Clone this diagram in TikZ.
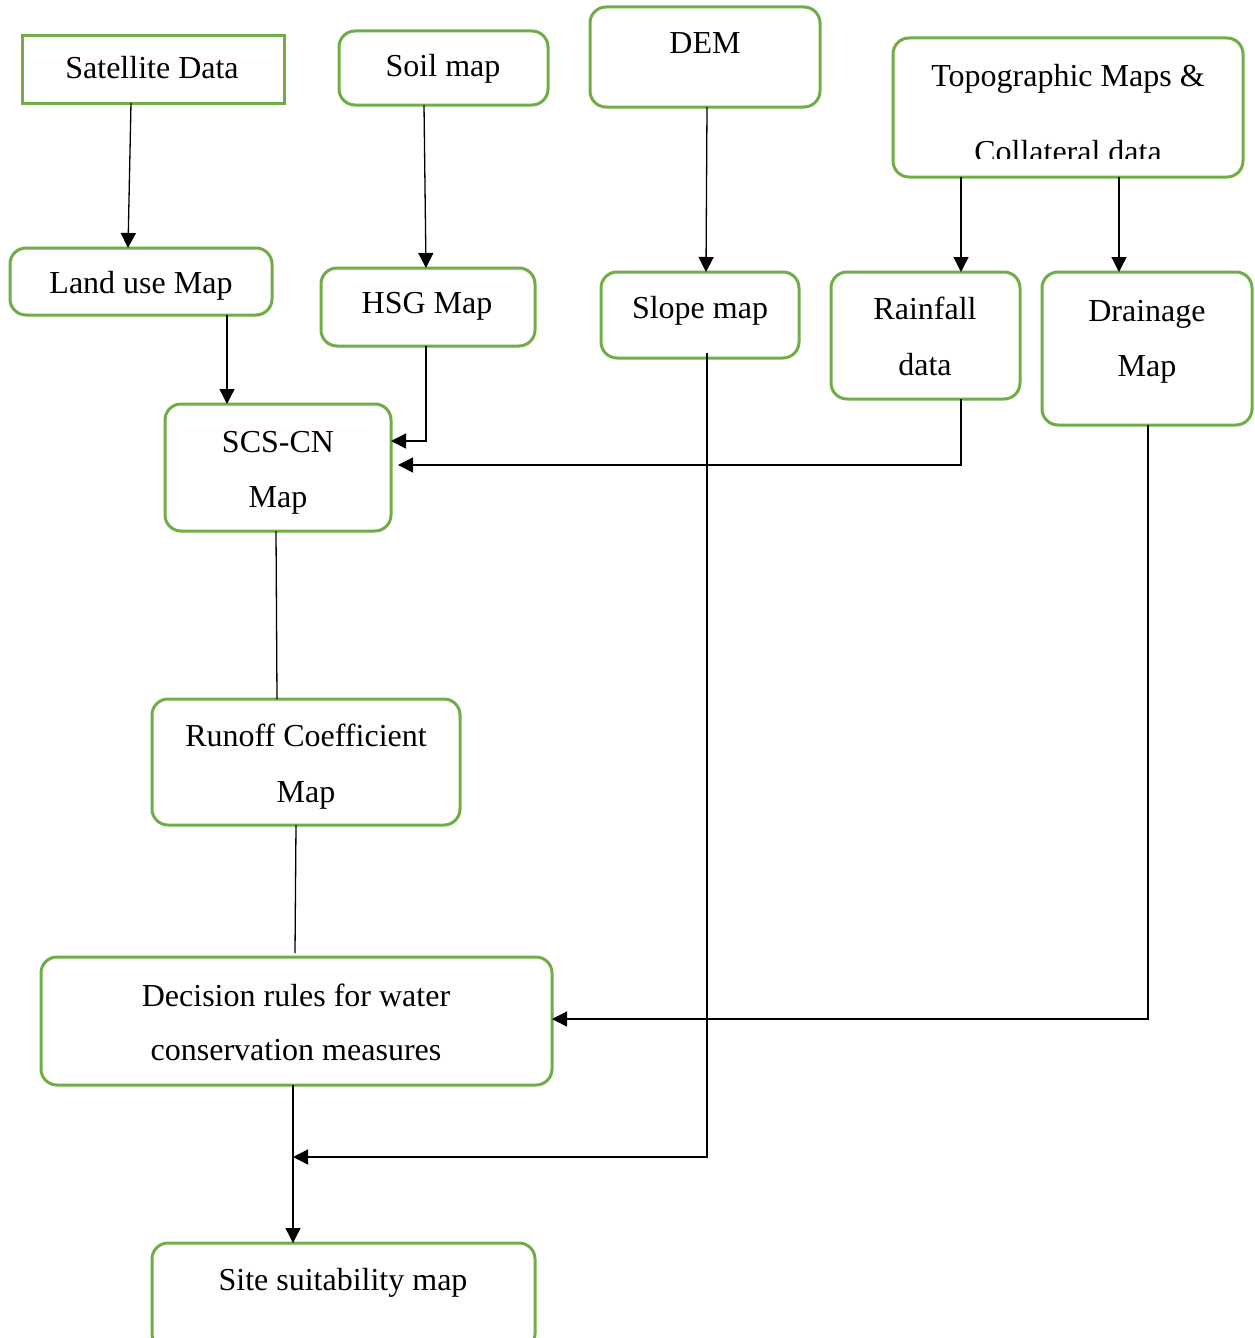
\documentclass[tikz,border=0pt]{standalone}
\usepackage{fontspec}
\setmainfont{Liberation Serif}
\usetikzlibrary{arrows.meta}
\definecolor{boxgreen}{RGB}{112,173,71}
\begin{document}
\begin{tikzpicture}[x=1pt,y=-1pt,
 box/.style={draw=boxgreen, line width=3pt, rounded corners=16pt, inner sep=0pt, outer sep=0pt},
 sqbox/.style={draw=boxgreen, line width=3pt, inner sep=0pt, outer sep=0pt},
 lbl/.style={font=\fontsize{32}{38}\selectfont, anchor=base, inner sep=0pt},
 conn/.style={line width=1.3pt, black},
 arr/.style={conn, -{Triangle[length=15pt,width=15pt]}}]
\useasboundingbox (0,0) rectangle (1254,1338);

% boxes
\node[sqbox, minimum width=262pt, minimum height=67pt] (sat) at (153,69.5) {};
\node[box, minimum width=209pt, minimum height=74pt] (soil) at (443.5,68) {};
\node[box, minimum width=230pt, minimum height=100pt] (dem) at (705,57) {};
\node[box, minimum width=350pt, minimum height=139pt] (topo) at (1068,107.5) {};
\node[box, minimum width=262pt, minimum height=67pt] (land) at (141,281.5) {};
\node[box, minimum width=214pt, minimum height=78pt] (hsg) at (428,307) {};
\node[box, minimum width=198pt, minimum height=86pt] (slope) at (700,315) {};
\node[box, minimum width=189pt, minimum height=127pt] (rain) at (925.5,335.5) {};
\node[box, minimum width=210pt, minimum height=153pt] (drain) at (1147,348.5) {};
\node[box, minimum width=226pt, minimum height=127pt] (scs) at (278,467.5) {};
\node[box, minimum width=308pt, minimum height=126pt] (runoff) at (306,762) {};
\node[box, minimum width=511pt, minimum height=128pt] (dec) at (296.5,1021) {};
\node[box, minimum width=383pt, minimum height=107pt] (site) at (343.5,1296.5) {};

% labels
\node[lbl] (tsat) at (152,78) {Satellite Data};
\node[lbl] (tsoil) at (443,76) {Soil map};
\node[lbl] (tdem) at (705,54) {DEM};
\node[lbl] (ttopo1) at (1068,86) {Topographic Maps \&};
\begin{scope}
\clip (893,38) rectangle (1243,158);
\node[lbl] (ttopo2) at (1068,162) {Collateral data};
\end{scope}
\node[lbl] (tland) at (141,293) {Land use Map};
\node[lbl] (thsg) at (427,313) {HSG Map};
\node[lbl] (tslope) at (700,318) {Slope map};
\node[lbl] (train1) at (925,319) {Rainfall};
\node[lbl] (train2) at (925,375) {data};
\node[lbl] (tdrain1) at (1147,321) {Drainage};
\node[lbl] (tdrain2) at (1147,376) {Map};
\node[lbl] (tscs1) at (278,452) {SCS-CN};
\node[lbl] (tscs2) at (278,507) {Map};
\node[lbl] (trun1) at (306,746) {Runoff Coefficient};
\node[lbl] (trun2) at (306,802) {Map};
\node[lbl] (tdec1) at (296,1006) {Decision rules for water};
\node[lbl] (tdec2) at (296,1060) {conservation measures};
\node[lbl] (tsite) at (343,1290) {Site suitability map};

% connectors
\coordinate (join) at (293,1157);
\draw[arr] (131,0 |- sat.south) -- (128,0 |- land.north);
\draw[arr] (424,0 |- soil.south) -- (426,0 |- hsg.north);
\draw[arr] (707,0 |- dem.south) -- (706,0 |- slope.north);
\draw[arr] (961,0 |- topo.south) -- (961,0 |- rain.north);
\draw[arr] (1119,0 |- topo.south) -- (1119,0 |- drain.north);
\draw[arr] (227,0 |- land.south) -- (227,0 |- scs.north);
\draw[arr] (426,0 |- hsg.south) |- (scs.east |- 0,441);
\draw[arr] (961,0 |- rain.south) |- ([xshift=7pt]scs.east |- 0,465);
\draw[conn] (276,0 |- scs.south) -- (277,0 |- runoff.north);
\draw[conn] (296,0 |- runoff.south) -- (295,953);
\draw[arr] (1148,0 |- drain.south) |- (dec.east |- 0,1019);
\draw[arr] (707,353) |- (join);
\draw[arr] (293,0 |- dec.south) -- (293,0 |- site.north);
\end{tikzpicture}
\end{document}
